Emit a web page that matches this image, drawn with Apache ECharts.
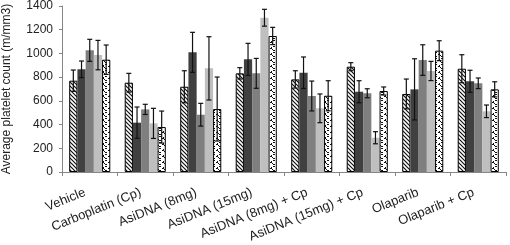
<!DOCTYPE html>
<html>
<head>
    <meta charset="utf-8">
    <title>platelets</title>
    <script src="https://cdn.jsdelivr.net/npm/echarts@6/dist/echarts.min.js"></script>
    <style>
        html, body { margin: 0; padding: 0; background: #fff; }
    </style>
</head>
<body>
<div id="chart1" style="width: 510px; height: 245px;"></div>
<script>
    var categories = ['Vehicle', 'Carboplatin (Cp)', 'AsiDNA (8mg)', 'AsiDNA (15mg)', 'AsiDNA (8mg) + Cp',
        'AsiDNA (15mg) + Cp', 'Olaparib', 'Olaparib + Cp'];
    var yTicks = [0, 200, 400, 600, 800, 1000, 1200, 1400];

    // mean values, one array per bar of each group
    var s1 = [770, 753, 719, 832, 781, 888, 658, 871];
    var s2 = [866, 416, 1009, 950, 837, 677, 697, 765];
    var s3 = [1026, 528, 483, 832, 641, 664, 944, 748];
    var s4 = [986, 410, 874, 1301, 537, 289, 852, 512];
    var s5 = [947, 379, 531, 1147, 643, 683, 1023, 697];

    // error bar half-heights
    var e1 = [90, 79, 135, 48, 73, 34, 126, 118];
    var e2 = [70, 132, 169, 135, 133, 93, 258, 93];
    var e3 = [93, 43, 96, 126, 126, 38, 129, 45];
    var e4 = [124, 127, 267, 71, 121, 51, 81, 53];
    var e5 = [124, 135, 270, 73, 127, 34, 84, 64];

    var means = [s1, s2, s3, s4, s5];
    var errs = [e1, e2, e3, e4, e5];

    // fill patterns
    function hatch() {
        var c = document.createElement('canvas');
        c.width = 4; c.height = 4;
        var g = c.getContext('2d');
        g.fillStyle = '#fff';
        g.fillRect(0, 0, 4, 4);
        g.strokeStyle = '#111';
        g.lineWidth = 1.2;
        g.beginPath();
        g.moveTo(-1, -1); g.lineTo(5, 5);
        g.moveTo(-1, 3); g.lineTo(1, 5);
        g.moveTo(3, -1); g.lineTo(5, 1);
        g.stroke();
        return c;
    }
    function wave() {
        var c = document.createElement('canvas');
        c.width = 6; c.height = 6;
        var g = c.getContext('2d');
        g.fillStyle = '#fff';
        g.fillRect(0, 0, 6, 6);
        g.fillStyle = '#111';
        g.fillRect(0, 0, 2, 1);
        g.fillRect(2, 1, 1, 1);
        g.fillRect(3, 2, 2, 1);
        g.fillRect(3, 4, 2, 1);
        g.fillRect(1, 5, 1, 1);
        return c;
    }

    var fills = [
        {image: hatch(), repeat: 'repeat'},
        '#404040',
        '#7f7f7f',
        '#bfbfbf',
        {image: wave(), repeat: 'repeat'}
    ];
    var borders = ['#000', '#404040', '#7f7f7f', '#bfbfbf', '#000'];

    var catGap = 0.26;

    var series = [];
    means.forEach(function (arr, k) {
        series.push({
            name: 'g' + k,
            type: 'bar',
            data: arr,
            barGap: '0%',
            barCategoryGap: (catGap * 100) + '%',
            itemStyle: {
                color: fills[k],
                borderColor: borders[k],
                borderWidth: (k === 0 || k === 4) ? 1 : 0
            },
            z: 2
        });
    });
    means.forEach(function (arr, k) {
        var data = arr.map(function (v, i) { return [i, v, errs[k][i]]; });
        series.push({
            name: 'err' + k,
            type: 'custom',
            data: data,
            z: 5,
            renderItem: function (params, api) {
                var i = api.value(0);
                var band = api.size([1, 0])[0];
                var bw = band * (1 - catGap) / 5;
                var c = api.coord([i, api.value(1)]);
                var x = c[0] + (k - 2) * bw;
                var top = api.coord([i, api.value(1) + api.value(2)])[1];
                var bot = api.coord([i, api.value(1) - api.value(2)])[1];
                var cap = 2.5;
                var st = {stroke: '#111', lineWidth: 1.2};
                return {
                    type: 'group',
                    children: [
                        {type: 'line', shape: {x1: x, y1: top, x2: x, y2: bot}, style: st},
                        {type: 'line', shape: {x1: x - cap, y1: top, x2: x + cap, y2: top}, style: st},
                        {type: 'line', shape: {x1: x - cap, y1: bot, x2: x + cap, y2: bot}, style: st}
                    ]
                };
            }
        });
    });

    var Mychart1 = echarts.init(document.getElementById('chart1'));
    var option1 = {
        animation: false,
        grid: {
            left: 62,
            right: 4,
            top: 6,
            bottom: 73,
            outerBoundsMode: 'none'
        },
        xAxis: {
            type: 'category',
            data: categories,
            axisLine: {lineStyle: {color: '#868686', width: 1}},
            axisTick: {show: true, length: 4, lineStyle: {color: '#868686'}},
            axisLabel: {
                rotate: 22,
                interval: 0,
                margin: 18,
                padding: [0, 5, 0, 0],
                color: '#222',
                fontFamily: 'Liberation Sans, Arial',
                fontSize: 13
            }
        },
        yAxis: {
            type: 'value',
            min: yTicks[0],
            max: yTicks[yTicks.length - 1],
            interval: 200,
            name: 'Average platelet count (m/mm3)',
            nameLocation: 'middle',
            nameGap: 49,
            nameTextStyle: {color: '#222', fontFamily: 'Liberation Sans, Arial', fontSize: 12},
            axisLine: {show: true, lineStyle: {color: '#868686'}},
            axisTick: {show: true, length: 3, lineStyle: {color: '#868686'}},
            splitLine: {show: false},
            axisLabel: {
                margin: 9,
                color: '#222',
                fontFamily: 'Liberation Sans, Arial',
                fontSize: 12,
                formatter: function (v) { return String(v); }
            }
        },
        series: series
    };
    Mychart1.setOption(option1);
</script>
</body>
</html>
